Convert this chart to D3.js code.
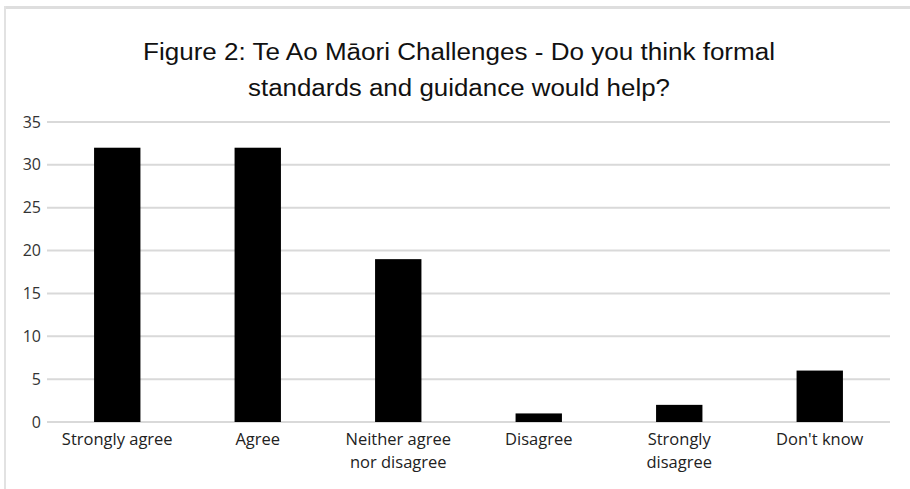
<!DOCTYPE html>
<html><head><meta charset="utf-8">
<script src="https://cdn.jsdelivr.net/npm/d3@7"></script>
<style>html,body{margin:0;padding:0;background:#fff;}</style>
</head><body>
<svg id="chart" width="910" height="489"></svg>
<script>
const categories = [["Strongly agree"], ["Agree"], ["Neither agree", "nor disagree"], ["Disagree"], ["Strongly", "disagree"], ["Don't know"]];
const values = [32, 32, 19, 1, 2, 6];
const yTicks = [0, 5, 10, 15, 20, 25, 30, 35];
const titleLines = ["Figure 2: Te Ao Māori Challenges - Do you think formal", "standards and guidance would help?"];

const svg = d3.select("#chart");
// frame
svg.append("rect").attr("x", 0).attr("y", 0).attr("width", 910).attr("height", 489).attr("fill", "#fff");
svg.append("line").attr("x1", 4).attr("x2", 910).attr("y1", 7.5).attr("y2", 7.5).attr("stroke", "#dedede").attr("stroke-width", 3);
svg.append("line").attr("x1", 5).attr("x2", 5).attr("y1", 6).attr("y2", 489).attr("stroke", "#e2e2e2").attr("stroke-width", 2);

const x = d3.scaleBand().domain(categories.map((d, i) => i)).range([47, 890]).paddingInner(0.67).paddingOuter(0.335);
const y = d3.scaleLinear().domain([0, 35]).range([422, 122]);

// gridlines
svg.append("g").selectAll("line").data(yTicks).join("line")
  .attr("x1", 47).attr("x2", 890)
  .attr("y1", d => y(d)).attr("y2", d => y(d))
  .attr("stroke", "#d9d9d9").attr("stroke-width", 2);

// y axis labels
const yAxis = svg.append("g").attr("transform", "translate(47,0)")
  .call(d3.axisLeft(y).tickValues(yTicks).tickSize(0).tickPadding(6));
yAxis.select(".domain").remove();
yAxis.selectAll("text").attr("font-family", "Open Sans").attr("font-size", 16).attr("fill", "#333");

// bars
svg.append("g").selectAll("rect").data(values).join("rect")
  .attr("x", (d, i) => x(i)).attr("width", x.bandwidth())
  .attr("y", d => y(d)).attr("height", d => y(0) - y(d))
  .attr("fill", "#000");

// x labels
const xl = svg.append("g").selectAll("text").data(categories).join("text")
  .attr("x", (d, i) => x(i) + x.bandwidth() / 2)
  .attr("y", 445)
  .attr("text-anchor", "middle")
  .attr("font-family", "Open Sans").attr("font-size", 16.5).attr("fill", "#222");
xl.selectAll("tspan").data(d => d).join("tspan")
  .attr("x", function() { return d3.select(this.parentNode).attr("x"); })
  .attr("dy", (d, i) => i === 0 ? 0 : 23)
  .text(d => d);

// title
const titleWidths = [632, 422];
svg.append("g").selectAll("text").data(titleLines).join("text")
  .attr("x", 459).attr("y", (d, i) => 60 + i * 36)
  .attr("text-anchor", "middle")
  .attr("font-family", "Liberation Sans").attr("font-size", 23).attr("fill", "#111")
  .attr("textLength", (d, i) => titleWidths[i]).attr("lengthAdjust", "spacingAndGlyphs")
  .text(d => d);
</script>
</body></html>
